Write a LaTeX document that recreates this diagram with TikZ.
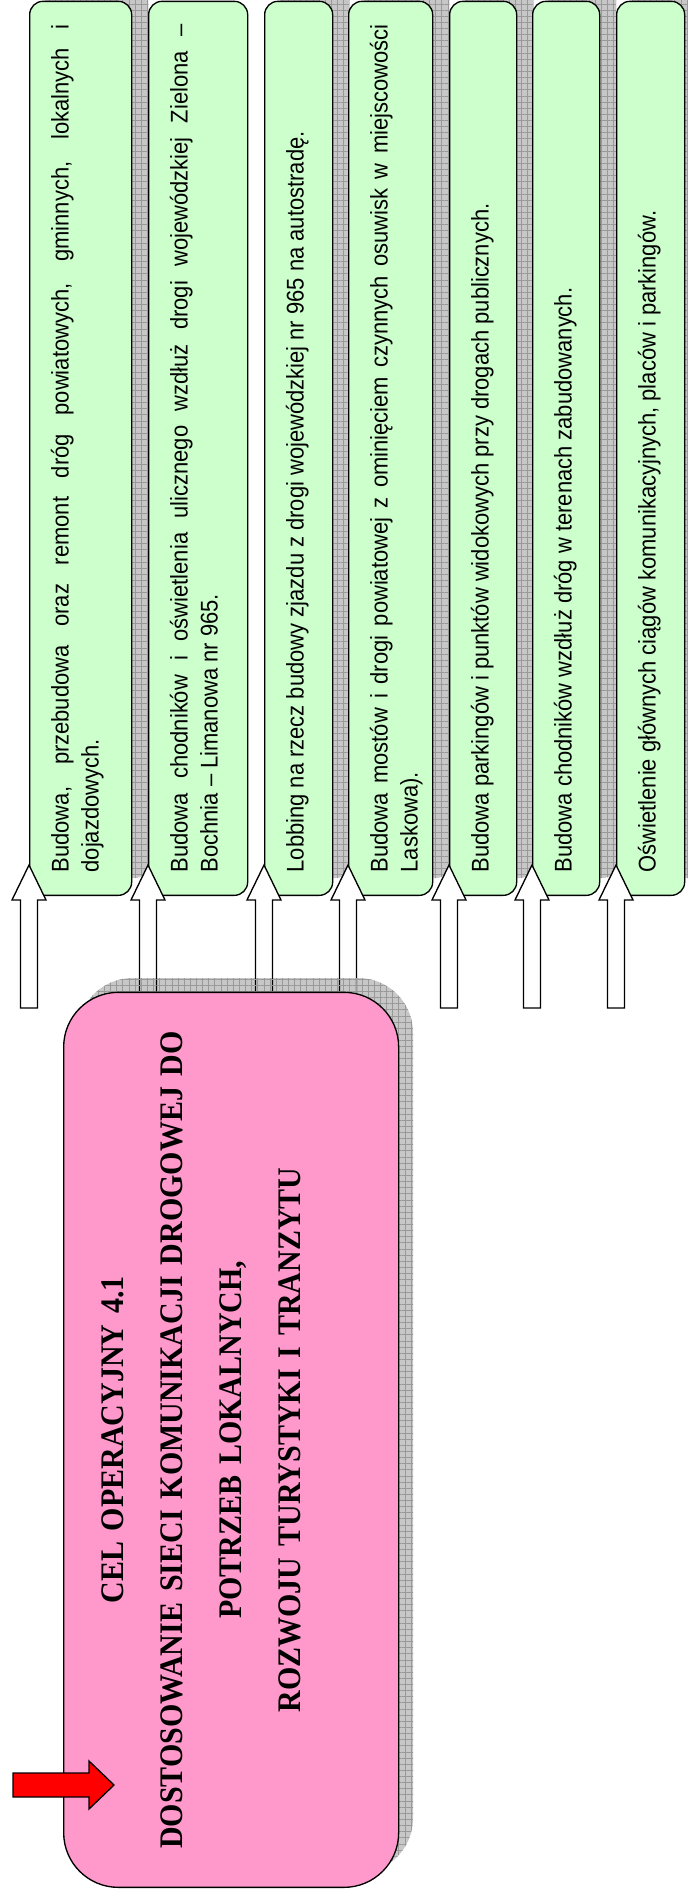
\documentclass[tikz,border=0pt]{standalone}
\usepackage{fontspec}
\setmainfont{Liberation Serif}[FakeStretch=0.91]
\newfontfamily\actfont{Liberation Sans}[FakeStretch=0.91]
\usetikzlibrary{backgrounds,patterns.meta}

\definecolor{actgreen}{HTML}{CCFFCC}
\definecolor{celpink}{HTML}{FF99CC}
\tolerance=10000 \hbadness=10000 \hyphenpenalty=10000 \exhyphenpenalty=10000

\tikzset{
  actbox/.style={rotate=90, anchor=north west, draw, line width=1pt, fill=actgreen,
    rounded corners=10pt, inner sep=0pt, minimum width=670.5pt, text width=636pt,
    align=justify, text height=29.25pt, font=\actfont\fontsize{18.1pt}{22.5pt}\selectfont},
  celbox/.style={rotate=90, anchor=north west, draw, line width=1pt, fill=celpink,
    rounded corners=41pt, inner sep=0pt, minimum width=671.25pt, text width=660pt,
    align=center, text height=45pt, text depth=206.25pt,
    font=\fontsize{24.7pt}{44.25pt}\selectfont\bfseries},
  boxshadow/.style={fill=black, fill opacity=0.22,
    postaction={pattern={Hatch[angle=0, distance=4.6pt, line width=0.35pt]},
      pattern color=black!40}},
  uparrow/.style={draw, line width=1pt, fill=white},
  redarrow/.style={draw, line width=1pt, fill=red}
}

\begin{document}
\begin{tikzpicture}[x=0.75pt, y=-0.75pt]
      \useasboundingbox (0,0) rectangle (688,1899);
      % Action 1
      \node[actbox, text depth=47.25pt] (g1) at (29,896) {Budowa, przebudowa oraz remont dróg
        powiatowych, gminnych, lokalnych i\linebreak dojazdowych.};
      % Action 2
      \node[actbox, text depth=45pt] (g2) at (148,896) {Budowa chodników i oświetlenia ulicznego
        wzdłuż drogi wojewódzkiej Zielona –\linebreak Bochnia – Limanowa nr 965.};
      % Action 3
      \node[actbox, text depth=21.75pt] (g3) at (264,896) {Lobbing na rzecz budowy zjazdu z drogi
        wojewódzkiej nr 965 na autostradę.};
      % Action 4
      \node[actbox, text depth=33.75pt] (g4) at (348,896) {Budowa mostów i drogi powiatowej
        z ominięciem czynnych osuwisk w miejscowości\linebreak Laskowa).};
      % Action 5
      \node[actbox, text depth=21pt] (g5) at (449,896) {Budowa parkingów i punktów widokowych
        przy drogach publicznych.};
      % Action 6
      \node[actbox, text depth=21pt] (g6) at (532,896) {Budowa chodników wzdłuż dróg w terenach
        zabudowanych.};
      % Action 7
      \node[actbox, text depth=21.75pt] (g7) at (616,896) {Oświetlenie głównych ciągów
        komunikacyjnych, placów i parkingów.};

      % shadows of the actions
      \begin{scope}[on background layer]
        \foreach \n in {g1,g3,g4,g5,g6,g7}
          \path[boxshadow, rounded corners=10pt] ([shift={(16,-18)}]\n.north west)
            rectangle ([shift={(16,-18)}]\n.south east);
      \end{scope}

      % arrows up to the actions
      \foreach \n in {g1,g2,g3,g4,g5,g6,g7}
        \draw[uparrow] ([shift={(0,-31)}]\n.north west) -- ++(17,35) -- ++(-8.5,0)
          -- ++(0,108) -- ++(-17,0) -- ++(0,-108) -- ++(-8.5,0) -- cycle;

      % Goal
      \path[boxshadow, rounded corners=41pt] (78,1873) rectangle (413,978);
      \node[celbox] (cel) at (63,1888) {CEL OPERACYJNY 4.1\\
        DOSTOSOWANIE SIECI KOMUNIKACJI DROGOWEJ DO\\
        POTRZEB LOKALNYCH,\\
        ROZWOJU TURYSTYKI I TRANZYTU};

      % pointer
      \coordinate (ptr) at (114,1785);
      \draw[redarrow] (ptr) -- ++(-25,-24) -- ++(0,12) -- ++(-76,0) -- ++(0,24)
        -- ++(76,0) -- ++(0,12) -- cycle;
\end{tikzpicture}
\end{document}
